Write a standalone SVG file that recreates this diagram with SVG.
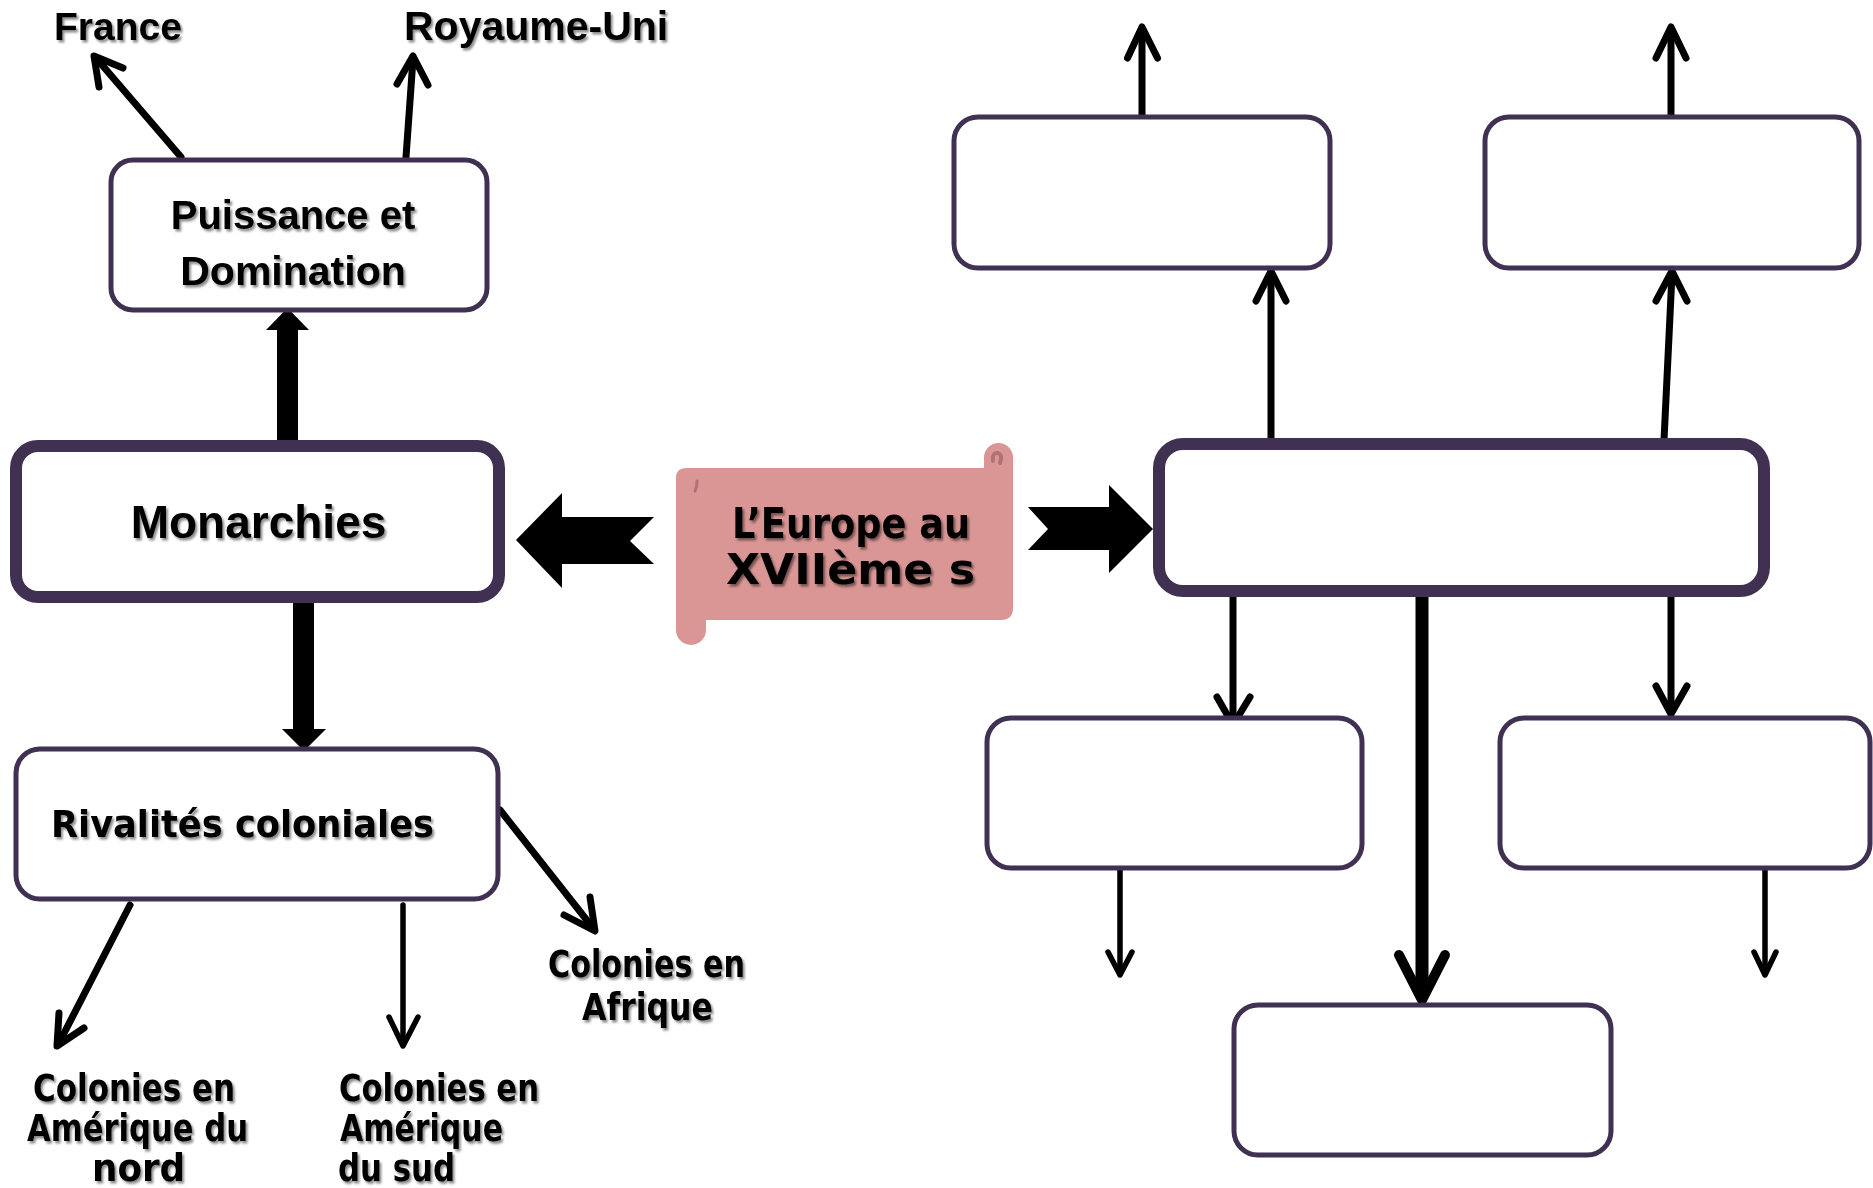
<svg xmlns="http://www.w3.org/2000/svg" width="1873" height="1188" viewBox="0 0 1873 1188">
<defs>
<filter id="sh" x="-10%" y="-20%" width="125%" height="150%">
<feDropShadow dx="2" dy="2.5" stdDeviation="1.3" flood-color="#000" flood-opacity="0.45"/>
</filter>
<style>
.box{fill:#fff;stroke:#403152;stroke-width:5}
.bold{fill:#fff;stroke:#403152;stroke-width:12}
.cal{font-family:"Liberation Sans",Arial,sans-serif;font-weight:bold;fill:#000;filter:url(#sh)}
.com{font-family:"DejaVu Sans","Liberation Sans",sans-serif;font-weight:bold;fill:#000;filter:url(#sh)}
.ln{fill:none;stroke:#000;stroke-width:7;stroke-linecap:round;stroke-linejoin:round}
.sm{stroke-width:5.5}
.thick{stroke-width:13;stroke-linecap:butt}
.thickhead{stroke-width:10}
.blk{fill:#000}
</style>
</defs>
<rect width="1873" height="1188" fill="#fff"/>

<g id="connectors">
<!-- left side -->
<path class="ln" d="M181,157 L96,58"/>
<polyline class="ln" points="99,87 94,56 123,68"/>
<path class="ln" d="M406,157 L413,59"/>
<polyline class="ln" points="397,84 413,56 428,85"/>
<polygon class="blk" points="277,449 298,449 298,330 309,330 287.5,308 266,330 277,330"/>
<polygon class="blk" points="293,597 314,597 314,729 326,729 304,751 282,729 293,729"/>
<path class="ln" d="M500,810 L593,928"/>
<polyline class="ln" points="564,915 595,931 590,897"/>
<path class="ln" d="M130,905 L59,1043"/>
<polyline class="ln" points="59,1013 57,1046 84,1028"/>
<path class="ln sm" d="M403,905 L403,1044"/>
<polyline class="ln sm" points="389,1017 403,1046 418,1017"/>
<!-- central block arrows -->
<polygon class="blk" points="516,540 562,493 562,517 654,517 630,541 654,564 562,564 562,588"/>
<polygon class="blk" points="1028,507 1109,507 1109,485 1153,529 1109,573 1109,550 1028,550 1048,529"/>
<!-- right side -->
<path class="ln" d="M1142,117 L1142,30"/>
<polyline class="ln" points="1127.5,58 1142,27 1157.5,58"/>
<path class="ln" d="M1671,117 L1671,30"/>
<polyline class="ln" points="1656,58 1671,27 1686,58"/>
<path class="ln" d="M1271,440 L1271,274"/>
<polyline class="ln" points="1256,301 1271,271 1286,301"/>
<path class="ln" d="M1664,440 L1672,274"/>
<polyline class="ln" points="1656,301 1672,271 1687,301"/>
<path class="ln" d="M1233,597 L1233,722"/>
<polyline class="ln" points="1217,697 1233,725 1250,697"/>
<path class="ln" d="M1671,597 L1671,711"/>
<polyline class="ln" points="1656,686 1671,714 1687,686"/>
<path class="ln thick" d="M1422,597 L1422,995"/>
<polyline class="ln thickhead" points="1399,955 1422,1000 1445,955"/>
<path class="ln sm" d="M1120,870 L1120,973"/>
<polyline class="ln sm" points="1108,952 1120,975 1132,952"/>
<path class="ln sm" d="M1765,870 L1765,973"/>
<polyline class="ln sm" points="1754,952 1765,975 1776,952"/>
</g>

<g id="node-france"><text class="cal" x="54" y="40" font-size="39">France</text></g>
<g id="node-royaume-uni"><text class="cal" x="404" y="40" font-size="41">Royaume-Uni</text></g>

<g id="node-puissance">
<rect class="box" x="111" y="160" width="376" height="150" rx="22"/>
<text class="cal" x="293" y="229" font-size="40" text-anchor="middle">Puissance et</text>
<text class="cal" x="293" y="285" font-size="41" text-anchor="middle">Domination</text>
</g>

<g id="node-monarchies">
<rect class="bold" x="16" y="446" width="483" height="151" rx="22"/>
<text class="cal" x="258.5" y="538" font-size="46" text-anchor="middle">Monarchies</text>
</g>

<g id="node-rivalites">
<rect class="box" x="16" y="749" width="482" height="150" rx="24"/>
<text class="com" x="51" y="837" font-size="38" textLength="383" lengthAdjust="spacingAndGlyphs">Rivalités coloniales</text>
</g>

<g id="node-afrique">
<text class="com" x="548" y="977" font-size="37" textLength="197" lengthAdjust="spacingAndGlyphs">Colonies en</text>
<text class="com" x="582" y="1020" font-size="37" textLength="131" lengthAdjust="spacingAndGlyphs">Afrique</text>
</g>
<g id="node-amerique-nord">
<text class="com" x="33" y="1101" font-size="37" textLength="202" lengthAdjust="spacingAndGlyphs">Colonies en</text>
<text class="com" x="27" y="1141" font-size="37" textLength="221" lengthAdjust="spacingAndGlyphs">Amérique du</text>
<text class="com" x="92" y="1181" font-size="37" textLength="93" lengthAdjust="spacingAndGlyphs">nord</text>
</g>
<g id="node-amerique-sud">
<text class="com" x="339" y="1101" font-size="37" textLength="200" lengthAdjust="spacingAndGlyphs">Colonies en</text>
<text class="com" x="340" y="1141" font-size="37" textLength="163" lengthAdjust="spacingAndGlyphs">Amérique</text>
<text class="com" x="338" y="1181" font-size="37" textLength="117" lengthAdjust="spacingAndGlyphs">du sud</text>
</g>

<g id="node-europe">
<path fill="#d99694" d="M686,468 L984,468 L984,457.5 A14.5,14.5 0 0 1 1013,457.5 L1013,608 Q1013,620 1001,620 L706,620 L706,630 A15,15 0 0 1 676,630 L676,478 Q676,468 686,468 Z"/>
<path fill="none" stroke="#b07272" stroke-width="4" stroke-linecap="round" d="M993,461 Q992,452 998,453 Q1003,455 1000,463"/>
<path fill="none" stroke="#b07272" stroke-width="3" stroke-linecap="round" d="M697,481 Q697,487 695,491"/>
<text class="com" x="732" y="538" font-size="42" textLength="238" lengthAdjust="spacingAndGlyphs">L’Europe au</text>
<text class="com" x="726" y="584" font-size="42" textLength="249" lengthAdjust="spacingAndGlyphs">XVIIème s</text>
</g>

<g id="node-center"><rect class="bold" x="1159" y="444" width="605" height="147" rx="24"/></g>
<g id="node-top-left"><rect class="box" x="954" y="117" width="376" height="151" rx="24"/></g>
<g id="node-top-right"><rect class="box" x="1485" y="117" width="374" height="151" rx="24"/></g>
<g id="node-mid-left"><rect class="box" x="987" y="718" width="375" height="150" rx="24"/></g>
<g id="node-mid-right"><rect class="box" x="1500" y="718" width="370" height="150" rx="24"/></g>
<g id="node-bottom"><rect class="box" x="1234" y="1005" width="377" height="150" rx="24"/></g>
</svg>
